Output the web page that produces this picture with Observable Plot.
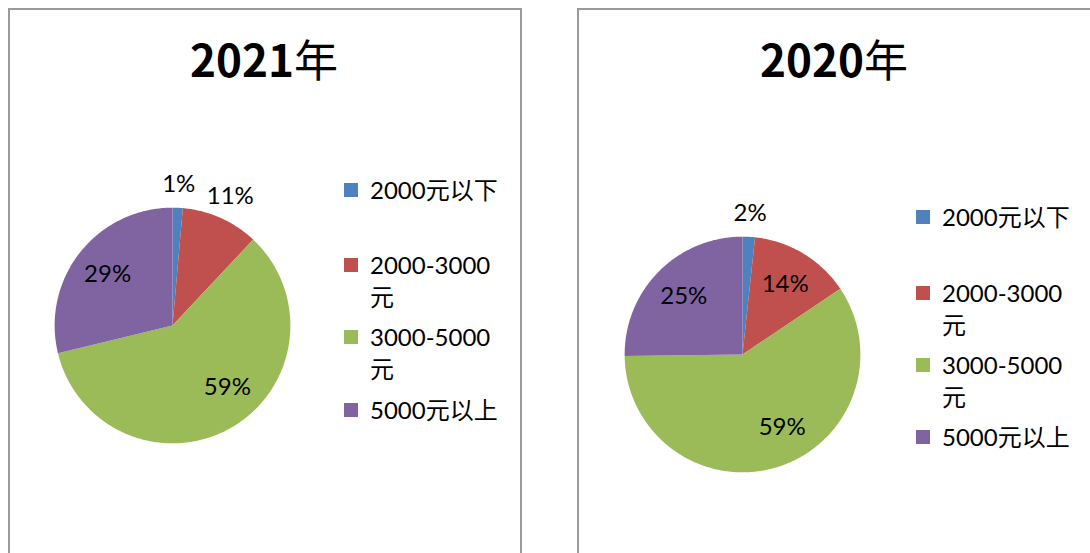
<!DOCTYPE html>
<html>
<head>
<meta charset="utf-8">
<script src="https://cdn.jsdelivr.net/npm/d3@7"></script>
<script src="https://cdn.jsdelivr.net/npm/@observablehq/plot@0.6"></script>
<style>
  html, body { margin: 0; padding: 0; background: #fff; }
  body { width: 1090px; height: 553px; position: relative; overflow: hidden;
         font-family: "Noto Sans CJK SC", "Noto Sans", sans-serif; color: #000; }
  .panel { position: absolute; box-sizing: border-box; border: 2px solid #9a9a9a; background: #fff; }
  .title { position: absolute; font-size: 44px; line-height: 1; white-space: nowrap; transform: translateX(-50%); }
  .title b { font-weight: 700; }
  .title span { font-weight: 400; }
  .pie { position: absolute; }
  .legend { position: absolute; font-size: 24px; font-family: Lato, "Noto Sans CJK SC", sans-serif; }
  .entry { position: relative; padding-left: 26px; white-space: nowrap; }
  .line { height: 32px; line-height: 32px; overflow: visible; }
  .swatch { position: absolute; left: 0; top: 9px; width: 14px; height: 14px; }
</style>
</head>
<body>
<div id="root"></div>
<script>
// ---- data ----
const categories = ["2000元以下", "2000-3000元", "3000-5000元", "5000元以上"];
const colors = ["#4F81BD", "#C0504D", "#9BBB59", "#8064A2"];
const years = ["2021", "2020"];
const share2021 = [1.4, 10.6, 59.2, 28.8];
const share2020 = [1.7, 13.9, 59.2, 25.2];
const labels2021 = ["1%", "11%", "59%", "29%"];
const labels2020 = ["2%", "14%", "59%", "25%"];

// ---- layout ----
const panels = [
  {year: years[0], shares: share2021, labels: labels2021,
   box: {left: 8, top: 8, width: 514, height: 600},
   titleX: 264, titleTop: 36,
   pie: {left: 7, top: 160},
   legend: {left: 344, top: 174, gaps: [43, 8, 9]}},
  {year: years[1], shares: share2020, labels: labels2020,
   box: {left: 577, top: 8, width: 600, height: 600},
   titleX: 834, titleTop: 36,
   pie: {left: 577, top: 189},
   legend: {left: 916, top: 201, gaps: [44, 8, 8]}}
];

const root = document.getElementById("root");
const PIE = 330, DOM = 1.4;

function slicePolygons(shares) {
  const total = d3.sum(shares);
  const pts = [];
  let acc = 0;
  shares.forEach((s, i) => {
    const a0 = acc / total * 2 * Math.PI;
    acc += s;
    const a1 = acc / total * 2 * Math.PI;
    const n = Math.max(2, Math.ceil((a1 - a0) / (Math.PI / 360)));
    pts.push({cat: categories[i], x: 0, y: 0});
    for (let k = 0; k <= n; k++) {
      const a = a0 + (a1 - a0) * k / n;
      pts.push({cat: categories[i], x: Math.sin(a), y: Math.cos(a)});
    }
  });
  return pts;
}

function labelPoints(shares, labels) {
  const total = d3.sum(shares);
  let acc = 0;
  return shares.map((s, i) => {
    let mid = (acc + s / 2) / total * 2 * Math.PI;
    acc += s;
    const r = s < 12 ? 1.2 : 0.7;
    // large slices: best-fit label sits a bit toward the slice's start
    if (s > 50) mid -= 0.2;
    return {text: labels[i], x: r * Math.sin(mid), y: r * Math.cos(mid)};
  });
}

panels.forEach(p => {
  const box = document.createElement("div");
  box.className = "panel";
  Object.assign(box.style, {left: p.box.left + "px", top: p.box.top + "px",
    width: p.box.width + "px", height: p.box.height + "px"});
  root.appendChild(box);

  const t = document.createElement("div");
  t.className = "title";
  t.style.left = p.titleX + "px";
  t.style.top = p.titleTop + "px";
  t.innerHTML = `<b>${p.year}</b><span>年</span>`;
  root.appendChild(t);

  const chart = Plot.plot({
    width: PIE, height: PIE,
    margin: 0,
    x: {domain: [-DOM, DOM], axis: null},
    y: {domain: [-DOM, DOM], axis: null},
    color: {domain: categories, range: colors},
    style: {background: "transparent", overflow: "visible"},
    marks: [
      Plot.line(slicePolygons(p.shares), {x: "x", y: "y", z: "cat", fill: "cat", stroke: "none"}),
      Plot.text(labelPoints(p.shares, p.labels), {x: "x", y: "y", text: "text",
        fontSize: 24, fill: "#000", fontFamily: "Lato, Noto Sans CJK SC, sans-serif"})
    ]
  });
  const holder = document.createElement("div");
  holder.className = "pie";
  holder.style.left = p.pie.left + "px";
  holder.style.top = p.pie.top + "px";
  holder.appendChild(chart);
  root.appendChild(holder);

  const leg = document.createElement("div");
  leg.className = "legend";
  leg.style.left = p.legend.left + "px";
  leg.style.top = p.legend.top + "px";
  categories.forEach((c, i) => {
    const e = document.createElement("div");
    e.className = "entry";
    if (i < categories.length - 1) e.style.marginBottom = p.legend.gaps[i] + "px";
    const lines = c.includes("-") ? [c.slice(0, c.indexOf("元")), "元"] : [c];
    e.innerHTML = `<div class="swatch" style="background:${colors[i]}"></div>` +
      lines.map(l => `<div class="line">${l}</div>`).join("");
    leg.appendChild(e);
  });
  root.appendChild(leg);
});
</script>
</body>
</html>
